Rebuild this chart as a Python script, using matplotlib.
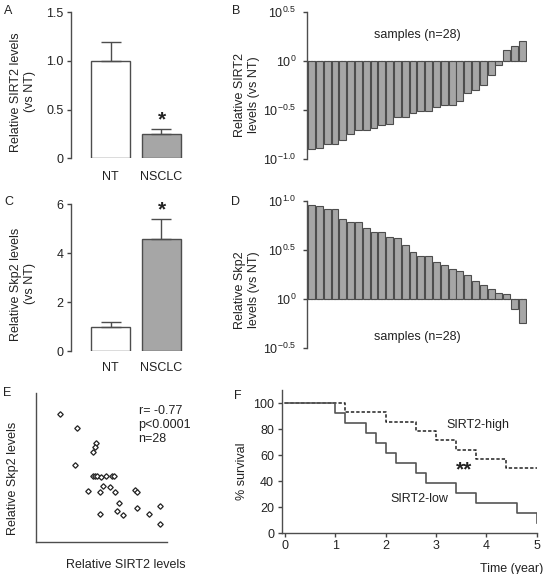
import numpy as np
import matplotlib.pyplot as plt

plt.rcParams['font.family'] = ['Liberation Sans', 'DejaVu Sans']
plt.rcParams['mathtext.fontset'] = 'custom'
plt.rcParams['mathtext.rm'] = 'Liberation Sans'
plt.rcParams['mathtext.default'] = 'regular'
plt.rcParams['font.size'] = 9
plt.rcParams['text.color'] = '#222222'
plt.rcParams['xtick.color'] = '#444444'
plt.rcParams['ytick.color'] = '#444444'
plt.rcParams['xtick.labelcolor'] = '#222222'
plt.rcParams['ytick.labelcolor'] = '#222222'

# data
groups = ['NT', 'NSCLC']
sirt2_mean = [1.0, 0.25]
sirt2_err = [0.2, 0.05]
skp2_mean = [1.0, 4.6]
skp2_err = [0.2, 0.8]

# log10 of relative level, per sample (sorted)
sirt2_log = [-0.90, -0.89, -0.85, -0.85, -0.81, -0.745, -0.70, -0.70, -0.68, -0.65,
             -0.64, -0.575, -0.575, -0.53, -0.51, -0.51, -0.47, -0.45, -0.45, -0.405,
             -0.33, -0.30, -0.245, -0.143, -0.04, 0.105, 0.153, 0.197]
skp2_log = [0.956, 0.945, 0.92, 0.92, 0.82, 0.785, 0.785, 0.727, 0.683, 0.683,
            0.63, 0.62, 0.546, 0.478, 0.433, 0.433, 0.375, 0.348, 0.307, 0.28,
            0.246, 0.177, 0.143, 0.096, 0.061, 0.044, -0.10, -0.25]

# correlation scatter (arbitrary units)
corr_x = [1.86, 3.16, 4.58, 4.50, 4.38, 2.98, 4.40, 4.55, 4.66, 4.96, 5.37, 5.83, 5.95, 5.11,
          5.65, 3.97, 4.94, 6.08, 7.58, 7.74, 6.36, 4.94, 6.21, 6.67, 7.76, 8.63, 9.47, 9.47]
corr_y = [8.64, 7.65, 6.69, 6.42, 6.09, 5.19, 4.47, 4.47, 4.47, 4.36, 4.47, 4.47, 4.47, 3.78,
          3.69, 3.42, 3.40, 3.40, 3.51, 3.40, 2.62, 1.90, 2.13, 1.81, 2.33, 1.92, 2.42, 1.23]

# survival curves
high_t = [0, 1.2, 2.0, 2.6, 3.0, 3.4, 3.8, 4.4, 5.0]
high_s = [100, 92.9, 85.7, 78.6, 71.4, 64.3, 57.1, 50.0, 50.0]
low_t = [0, 1.0, 1.2, 1.6, 1.8, 2.0, 2.2, 2.6, 2.8, 3.4, 3.8, 4.6, 5.0]
low_s = [100, 92.3, 84.6, 76.9, 69.2, 61.5, 53.8, 46.2, 38.5, 30.8, 23.1, 15.4, 7.7]

EDGE = '#4d4d4d'
GREY = '#a6a6a6'
W, H = 544, 574


def rect(l, t, r, b):
    return [l / W, 1 - b / H, (r - l) / W, (b - t) / H]


def pt(x, y):
    return x / W, 1 - y / H


def clean(ax, bottom=False):
    ax.spines['top'].set_visible(False)
    ax.spines['right'].set_visible(False)
    ax.spines['bottom'].set_visible(bottom)
    for s in ['left', 'bottom']:
        ax.spines[s].set_color(EDGE)
        ax.spines[s].set_linewidth(1)
    ax.tick_params(axis='y', length=3, width=1, pad=2.5)


fig = plt.figure(figsize=(W / 100, H / 100), dpi=100)


def mean_bars(ax, mean, err, ylim, yticks, ylabels, xpad):
    x = np.arange(len(groups))
    ax.bar(x, mean, width=0.77, color=['white', GREY], edgecolor=EDGE, linewidth=1,
           yerr=[np.zeros(len(err)), err],
           error_kw=dict(ecolor=EDGE, elinewidth=1, capsize=7, capthick=1))
    ax.set_xlim(-0.78, 1.6)
    ax.set_ylim(*ylim)
    ax.set_yticks(yticks)
    ax.set_yticklabels(ylabels)
    ax.set_xticks(x)
    ax.set_xticklabels(groups)
    ax.tick_params(axis='x', length=0, pad=xpad)
    clean(ax)
    ax.spines['left'].set_bounds(*ylim)
    ax.text(1, mean[1] + err[1], '*', ha='center', va='bottom', fontsize=15,
            fontweight='bold')


# A
axA = fig.add_axes(rect(71, 12.3, 192, 158.3))
mean_bars(axA, sirt2_mean, sirt2_err, (0, 1.5), [0, 0.5, 1.0, 1.5], ['0', '0.5', '1.0', '1.5'], 9)
fig.text(*pt(23, 92), 'Relative SIRT2 levels\n(vs NT)', rotation=90, ha='center', va='center',
         multialignment='center')
fig.text(*pt(8, 11), 'A', ha='center', va='center')

# C
axC = fig.add_axes(rect(71, 204.3, 192, 351))
mean_bars(axC, skp2_mean, skp2_err, (0, 6), [0, 2, 4, 6], ['0', '2', '4', '6'], 8)
fig.text(*pt(23, 284), 'Relative Skp2 levels\n(vs NT)', rotation=90, ha='center', va='center',
         multialignment='center')
fig.text(*pt(9, 202), 'C', ha='center', va='center')


def waterfall(ax, logs, ylog, label_y):
    vals = np.power(10.0, logs)
    x = np.arange(len(vals))
    ax.set_yscale('log')
    ax.bar(x, vals - 1, bottom=1, width=0.88, color=GREY, edgecolor=EDGE, linewidth=0.8)
    ax.axhline(1, color=EDGE, lw=0.8, ls=(0, (2, 1)))
    ax.set_xlim(-0.55, 27.6)
    ax.set_ylim(10 ** ylog[0], 10 ** ylog[-1])
    ax.set_yticks([10 ** v for v in ylog])
    ax.set_yticklabels(['$10^{%s}$' % ('0' if v == 0 else '%.1f' % v) for v in ylog])
    ax.minorticks_off()
    ax.set_xticks([])
    clean(ax)
    ax.tick_params(axis='y', pad=5)
    ax.text(13.6, 10 ** label_y, 'samples (n=28)', ha='center', va='center')


# B
axB = fig.add_axes(rect(307.3, 11.7, 527, 159))
waterfall(axB, sirt2_log, [-1.0, -0.5, 0, 0.5], 0.265)
fig.text(*pt(247, 95), 'Relative SIRT2\nlevels (vs NT)', rotation=90, ha='center', va='center',
         multialignment='center')
fig.text(*pt(236, 11), 'B', ha='center', va='center')

# D
axD = fig.add_axes(rect(307.3, 201, 527, 347.7))
waterfall(axD, skp2_log, [-0.5, 0, 0.5, 1.0], -0.39)
fig.text(*pt(247, 290), 'Relative Skp2\nlevels (vs NT)', rotation=90, ha='center', va='center',
         multialignment='center')
fig.text(*pt(236, 202), 'D', ha='center', va='center')

# E
axE = fig.add_axes(rect(35.7, 393.3, 166.7, 542.3))
axE.plot(corr_x, corr_y, 'D', ms=2.8, mfc='white', mec='#222222', mew=0.9)
axE.set_xlim(0, 10)
axE.set_ylim(0, 10)
axE.set_xticks([])
axE.set_yticks([])
clean(axE, bottom=True)
axE.text(7.85, 9.2, 'r= -0.77\np<0.0001\nn=28', ha='left', va='top', linespacing=1.2)
fig.text(*pt(13, 478), 'Relative Skp2 levels', rotation=90, ha='center', va='center')
fig.text(*pt(126, 565), 'Relative SIRT2 levels', ha='center', va='center')
fig.text(*pt(7, 393), 'E', ha='center', va='center')

# F
axF = fig.add_axes(rect(281.7, 390, 536.7, 533.3))
axF.step(high_t, high_s, where='post', color='#222222', lw=1.1, ls=(0, (2.2, 1.3)))
axF.step(low_t, low_s, where='post', color='#555555', lw=1.2)
axF.set_xlim(-0.066, 5)
axF.set_ylim(0, 110)
axF.set_yticks([0, 20, 40, 60, 80, 100])
axF.set_xticks([0, 1, 2, 3, 4, 5])
clean(axF, bottom=True)
axF.tick_params(axis='x', length=3, width=1, pad=2)
axF.text(3.2, 83, 'SIRT2-high', ha='left', va='center')
axF.text(2.1, 26, 'SIRT2-low', ha='left', va='center')
axF.text(3.55, 49, '**', ha='center', va='center', fontsize=15, fontweight='bold')
fig.text(*pt(543, 569), 'Time (year)', ha='right', va='center')
fig.text(*pt(242, 471), '% survival', rotation=90, ha='center', va='center')
fig.text(*pt(238, 396), 'F', ha='center', va='center')

fig.savefig('out.png', dpi=100)
